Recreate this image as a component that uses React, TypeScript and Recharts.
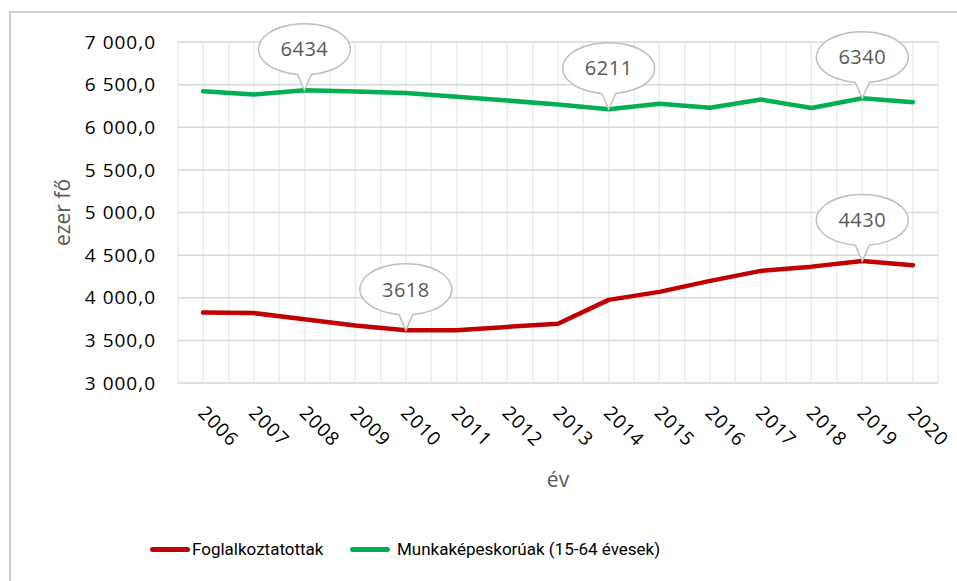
import React from 'react';
import {
   LineChart,
   Line,
   XAxis,
   YAxis,
   CartesianGrid,
   Legend,
   LabelList,
} from 'recharts';

// évek (kategóriák)
const years = [
   '2006', '2007', '2008', '2009', '2010', '2011', '2012', '2013',
   '2014', '2015', '2016', '2017', '2018', '2019', '2020',
];

// ezer fő
const foglalkoztatottak = [
   3827, 3820, 3749, 3675, 3618, 3620, 3658, 3695, 3975, 4069, 4198, 4315,
   4365, 4430, 4382,
];
const munkakepeskoruak = [
   6423, 6384, 6434, 6419, 6403, 6358, 6313, 6268, 6211, 6275, 6228, 6325,
   6225, 6340, 6294,
];

// melyik évekhez kerül buborék
const foglalkoztatottakCallouts = ['2010', '2019'];
const munkakepesCallouts = ['2008', '2014', '2019'];

const yTicks = [3000, 3500, 4000, 4500, 5000, 5500, 6000, 6500, 7000];

const RED = '#c00000';
const GREEN = '#00b050';
const FONT = '"Open Sans", "Noto Sans", sans-serif';

const chartData = years.map((year, i) => ({
   year,
   foglalkoztatottak: foglalkoztatottak[i],
   munkakepeskoruak: munkakepeskoruak[i],
}));

// 7000 -> "7 000,0"
const formatHu = (v: number) => {
   const th = Math.floor(v / 1000);
   const rest = String(v % 1000).padStart(3, '0');
   return `${th} ${rest},0`;
};

const makeBubble = (callouts: string[]) => (props: any) => {
   const { x, y, value, index } = props;
   if (!callouts.includes(years[index])) return null;
   const rx = 46;
   const ry = 25.5;
   const cx = x;
   const cy = y - 41;
   const half = 7;
   const yb = cy + ry * Math.sqrt(1 - (half / rx) * (half / rx));
   const d = `M ${cx + half} ${yb} A ${rx} ${ry} 0 1 0 ${cx - half} ${yb} L ${x} ${y} Z`;
   return (
      <g>
         <path d={d} fill="#ffffff" stroke="#bfbfbf" strokeWidth={1.5} />
         <text
            x={cx}
            y={cy}
            dy="0.36em"
            textAnchor="middle"
            fill="#595959"
            fontSize={20}
            letterSpacing={0.5}
            fontFamily={FONT}
         >
            {Math.round(Number(value))}
         </text>
      </g>
   );
};

const XTick = (props: any) => {
   const { x, y, payload } = props;
   return (
      <g transform={`translate(${x - 6},${y + 31})`}>
         <text
            x={0}
            y={0}
            transform="rotate(45)"
            textAnchor="start"
            fill="#000000"
            fontSize={19}
            letterSpacing={1}
            fontFamily={FONT}
         >
            {payload.value}
         </text>
      </g>
   );
};

const LegendContent = (props: any) => {
   const items = props.payload || [];
   return (
      <div
         style={{
            height: 24,
            display: 'flex',
            alignItems: 'center',
            paddingLeft: 150,
            fontFamily: 'Roboto, sans-serif',
            fontSize: 17,
            color: '#000000',
         }}
      >
         {items.map((it: any, i: number) => (
            <div
               key={i}
               style={{
                  display: 'flex',
                  alignItems: 'center',
                  width: i === 0 ? 200 : 'auto',
               }}
            >
               <span
                  style={{
                     display: 'inline-block',
                     width: 40,
                     height: 5,
                     borderRadius: 3,
                     background: it.color,
                     marginRight: i === 0 ? 2 : 7,
                  }}
               />
               <span>{it.value}</span>
            </div>
         ))}
      </div>
   );
};

export default function App() {
   return (
      <div
         style={{
            position: 'absolute',
            left: 0,
            top: 0,
            width: 957,
            height: 581,
            background: '#ffffff',
            overflow: 'hidden',
         }}
      >
         <div
            style={{
               position: 'absolute',
               left: 9,
               top: 11,
               width: 960,
               height: 600,
               borderLeft: '2px solid #cfcfcf',
               borderTop: '2px solid #cfcfcf',
            }}
         />
         <div style={{ position: 'absolute', left: 0, top: 0 }}>
            <LineChart
               width={957}
               height={581}
               data={chartData}
               margin={{ top: 42, right: 19, left: 0, bottom: 20 }}
            >
               <CartesianGrid
                  horizontal={false}
                  stroke="#ebebeb"
                  strokeWidth={1.5}
                  verticalCoordinatesGenerator={({ offset }: any) =>
                     Array.from(
                        { length: 31 },
                        (_, k) => offset.left + (k * offset.width) / 30
                     )
                  }
               />
               <CartesianGrid
                  vertical={false}
                  stroke="#d9d9d9"
                  strokeWidth={1.5}
               />
               <XAxis
                  dataKey="year"
                  height={154}
                  padding={{ left: 25, right: 25 }}
                  tickLine={false}
                  axisLine={false}
                  tickSize={0}
                  tickMargin={0}
                  interval={0}
                  tick={<XTick />}
                  label={{
                     content: (p: any) => {
                        const vb = p.viewBox;
                        return (
                           <text
                              x={vb.x + vb.width / 2}
                              y={vb.y + 104}
                              textAnchor="middle"
                              fill="#595959"
                              fontSize={21}
                              fontFamily={FONT}
                           >
                              év
                           </text>
                        );
                     },
                  }}
               />
               <YAxis
                  width={178}
                  domain={[3000, 7000]}
                  ticks={yTicks}
                  interval={0}
                  tickLine={false}
                  axisLine={false}
                  tickSize={0}
                  tickMargin={22}
                  tickFormatter={formatHu}
                  tick={{
                     fill: '#000000',
                     fontSize: 19,
                     letterSpacing: 1,
                     fontFamily: FONT,
                  }}
                  label={{
                     content: (p: any) => {
                        const vb = p.viewBox;
                        const cy = vb.y + vb.height / 2;
                        return (
                           <text
                              x={62}
                              y={cy}
                              transform={`rotate(-90, 62, ${cy})`}
                              textAnchor="middle"
                              dy="0.36em"
                              fill="#595959"
                              fontSize={21}
                              fontFamily={FONT}
                           >
                              ezer fő
                           </text>
                        );
                     },
                  }}
               />
               <Legend
                  verticalAlign="bottom"
                  height={24}
                  content={<LegendContent />}
               />
               <Line
                  type="linear"
                  dataKey="foglalkoztatottak"
                  name="Foglalkoztatottak"
                  stroke={RED}
                  strokeWidth={4.5}
                  strokeLinecap="round"
                  strokeLinejoin="round"
                  dot={false}
                  activeDot={false}
                  isAnimationActive={false}
               >
                  <LabelList
                     dataKey="foglalkoztatottak"
                     content={makeBubble(foglalkoztatottakCallouts)}
                  />
               </Line>
               <Line
                  type="linear"
                  dataKey="munkakepeskoruak"
                  name="Munkaképeskorúak (15-64 évesek)"
                  stroke={GREEN}
                  strokeWidth={4.5}
                  strokeLinecap="round"
                  strokeLinejoin="round"
                  dot={false}
                  activeDot={false}
                  isAnimationActive={false}
               >
                  <LabelList
                     dataKey="munkakepeskoruak"
                     content={makeBubble(munkakepesCallouts)}
                  />
               </Line>
            </LineChart>
         </div>
      </div>
   );
}
